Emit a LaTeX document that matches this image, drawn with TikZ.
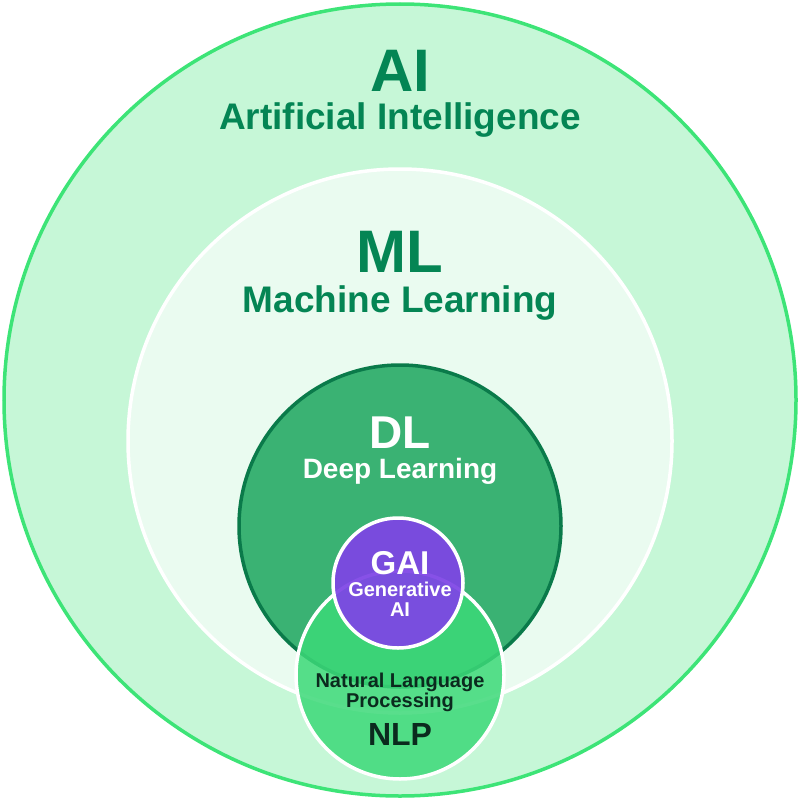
\documentclass[tikz,border=0pt]{standalone}
\usepackage{fontspec}
\setmainfont{Liberation Sans}
\usetikzlibrary{positioning}

\definecolor{aiFill}{HTML}{C6F7D7}
\definecolor{aiLine}{HTML}{3DE477}
\definecolor{mlFill}{HTML}{EAFBF0}
\definecolor{dlFill}{HTML}{3AB273}
\definecolor{dlLine}{HTML}{0A7A4A}
\definecolor{nlpFill}{HTML}{3CD978}
\definecolor{gaiFill}{HTML}{7E44E6}
\definecolor{titleGreen}{HTML}{048554}
\definecolor{nlpInk}{HTML}{0B2A1E}

\begin{document}
\begin{tikzpicture}
[x=1pt,y=-1pt,
  ringDecorate/.style={shape=circle,inner sep=0pt,line width=3.5pt},%
  labelDecorate/.style={anchor=base,inner sep=0pt,font=\bfseries}]
\useasboundingbox (0,0) rectangle (800,800);
%% rings, outermost first
\foreach \ringname/\x/\y/\d/\fillcol/\linecol in {
  ai/400/400/792/aiFill/aiLine, ml/400/441/544/mlFill/white, dl/400/526/322/dlFill/dlLine}
{
  \node (\ringname) at (\x,\y) [ringDecorate,minimum size=\d pt,fill=\fillcol,draw=\linecol] {};
}
%% overlapping rings
\node (nlp) at (400,675) [ringDecorate,minimum size=208pt,fill=nlpFill,fill opacity=0.85,draw=white] {};
\node (gai) at (398,583) [ringDecorate,minimum size=130pt,fill=gaiFill,fill opacity=0.93,draw=white] {};
%% labels
\foreach \labelname/\y/\size/\col/\txt in {
  aiTitle/92/60/titleGreen/AI, aiName/129/37/titleGreen/Artificial Intelligence,
  mlTitle/272/60/titleGreen/ML, mlName/312/37/titleGreen/Machine Learning,
  dlTitle/448/46/white/DL, dlName/478/28/white/Deep Learning,
  gaiTitle/574/33/white/GAI, gaiName/596/20/white/Generative, gaiSub/616/20/white/AI,
  nlpName/687/20/nlpInk/Natural Language, nlpSub/707/20/nlpInk/Processing,
  nlpTitle/745/32/nlpInk/NLP}
{
  \node (\labelname) at (400,\y) [labelDecorate,text=\col] {\fontsize{\size}{\size}\selectfont\txt};
}
\end{tikzpicture}
\end{document}
